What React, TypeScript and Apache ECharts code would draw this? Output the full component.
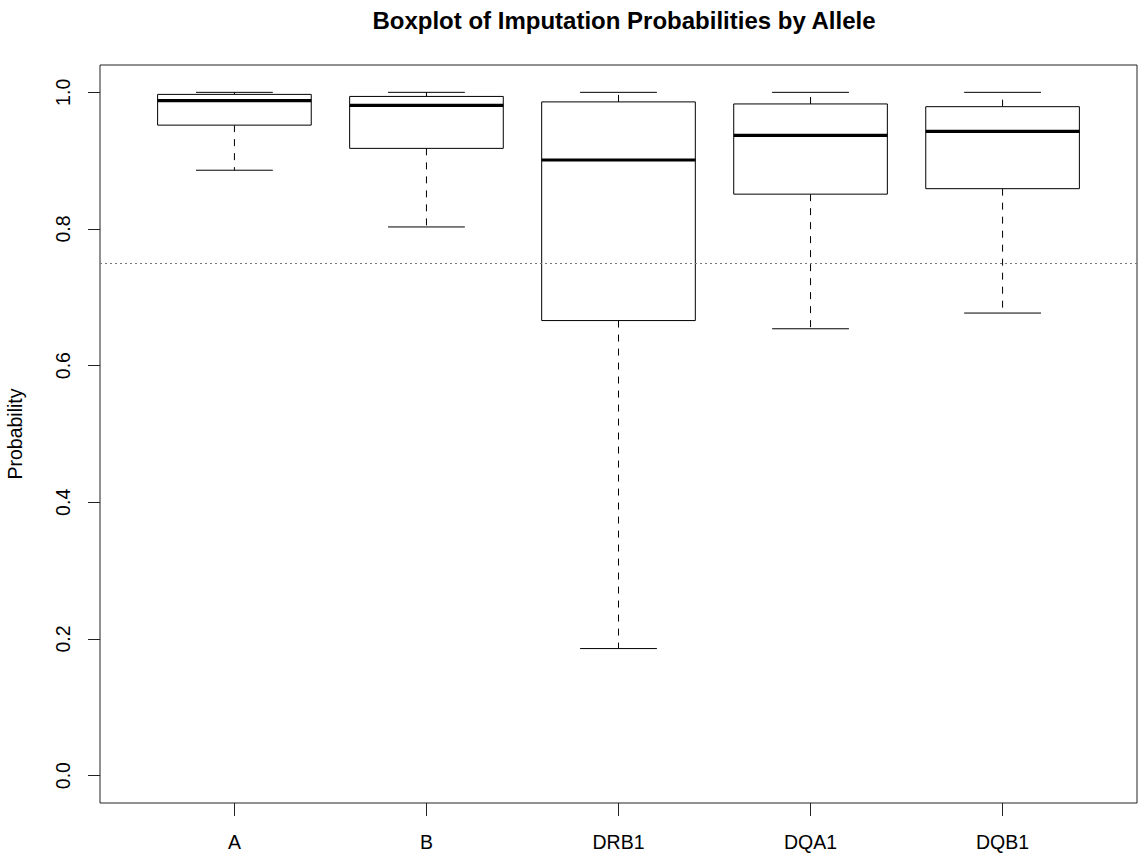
import React, { useEffect, useRef } from "react";
import * as echarts from "echarts";

const categories = ["A", "B", "DRB1", "DQA1", "DQB1"];
const lowerWhisker = [0.886, 0.803, 0.186, 0.654, 0.677];
const q1 = [0.952, 0.918, 0.666, 0.851, 0.859];
const median = [0.988, 0.981, 0.901, 0.937, 0.943];
const q3 = [0.997, 0.994, 0.986, 0.983, 0.979];
const upperWhisker = [1.0, 1.0, 1.0, 1.0, 1.0];
const yTicks = [0, 0.2, 0.4, 0.6, 0.8, 1.0];
const xTicks = [1, 2, 3, 4, 5];
const threshold = 0.75;

const FONT = "'Liberation Sans', Arial, Helvetica, sans-serif";

export default function App() {
  const ref = useRef<HTMLDivElement>(null);
  useEffect(() => {
    if (!ref.current) return;
    const chart = echarts.init(ref.current, null, { renderer: "svg" });
    const data = categories.map((_, i) => [
      i + 1,
      lowerWhisker[i],
      q1[i],
      median[i],
      q3[i],
      upperWhisker[i],
    ]);
    const renderItem = (params: any, api: any) => {
      const x = api.value(0);
      const pLow = api.coord([x, api.value(1)]);
      const pQ1 = api.coord([x, api.value(2)]);
      const pMed = api.coord([x, api.value(3)]);
      const pQ3 = api.coord([x, api.value(4)]);
      const pHigh = api.coord([x, api.value(5)]);
      const cx = pMed[0];
      const halfBox = api.size([0.4, 0])[0];
      const halfCap = api.size([0.2, 0])[0];
      const solid = { stroke: "#000", lineWidth: 1, fill: null };
      const dashed = { stroke: "#000", lineWidth: 1, lineDash: [7, 7], fill: null };
      return {
        type: "group",
        children: [
          {
            type: "line",
            shape: { x1: cx, y1: pQ3[1], x2: cx, y2: pHigh[1] },
            style: dashed,
          },
          {
            type: "line",
            shape: { x1: cx, y1: pQ1[1], x2: cx, y2: pLow[1] },
            style: dashed,
          },
          {
            type: "line",
            shape: { x1: cx - halfCap, y1: pHigh[1], x2: cx + halfCap, y2: pHigh[1] },
            style: solid,
          },
          {
            type: "line",
            shape: { x1: cx - halfCap, y1: pLow[1], x2: cx + halfCap, y2: pLow[1] },
            style: solid,
          },
          {
            type: "rect",
            shape: {
              x: cx - halfBox,
              y: pQ3[1],
              width: halfBox * 2,
              height: pQ1[1] - pQ3[1],
            },
            style: { fill: "#fff", stroke: "#000", lineWidth: 1 },
          },
          {
            type: "line",
            shape: { x1: cx - halfBox, y1: pMed[1], x2: cx + halfBox, y2: pMed[1] },
            style: { stroke: "#000", lineWidth: 3.2 },
          },
        ],
      };
    };
    chart.setOption({
      animation: false,
      backgroundColor: "#fff",
      title: {
        text: "Boxplot of Imputation Probabilities by Allele",
        left: 619,
        textAlign: "center",
        top: 3,
        textStyle: { fontFamily: FONT, fontSize: 24, fontWeight: "bold", color: "#000" },
      },
      grid: {
        left: 100,
        right: 1,
        top: 65,
        bottom: 51,
        show: true,
        borderColor: "#222",
        borderWidth: 1,
        backgroundColor: "transparent",
        containLabel: false,
        outerBoundsMode: "none",
      },
      xAxis: {
        type: "value",
        min: 0.3,
        max: 5.7,
        axisLine: { show: false, onZero: false },
        splitLine: { show: false },
        axisTick: {
          show: true,
          customValues: xTicks,
          length: 13,
          lineStyle: { color: "#222", width: 1 },
        },
        axisLabel: {
          customValues: xTicks,
          formatter: (v: number) => categories[Math.round(v) - 1] ?? "",
          margin: 29,
          fontFamily: FONT,
          fontSize: 19.5,
          color: "#000",
        },
      },
      yAxis: {
        type: "value",
        min: -0.04,
        max: 1.04,
        name: "Probability",
        nameLocation: "middle",
        nameRotate: 90,
        nameGap: 75,
        nameTextStyle: { fontFamily: FONT, fontSize: 19.5, color: "#000" },
        axisLine: { show: false, onZero: false },
        splitLine: { show: false },
        axisTick: {
          show: true,
          customValues: yTicks,
          length: 12,
          lineStyle: { color: "#222", width: 1 },
        },
        axisLabel: {
          customValues: yTicks,
          rotate: 90,
          formatter: (v: number) => v.toFixed(1),
          margin: 27.5,
          fontFamily: FONT,
          fontSize: 19.5,
          color: "#000",
        },
      },
      series: [
        {
          type: "custom",
          renderItem,
          data,
          encode: { x: 0, y: [1, 2, 3, 4, 5] },
          clip: false,
          markLine: {
            silent: true,
            symbol: ["none", "none"],
            label: { show: false },
            lineStyle: { color: "#777", type: [2, 3], width: 1.2 },
            data: [{ yAxis: threshold }],
          },
        },
      ],
    });
    return () => chart.dispose();
  }, []);
  return (
    <div
      ref={ref}
      style={{ position: "fixed", left: 0, top: 0, width: 1138, height: 854, background: "#fff" }}
    />
  );
}
